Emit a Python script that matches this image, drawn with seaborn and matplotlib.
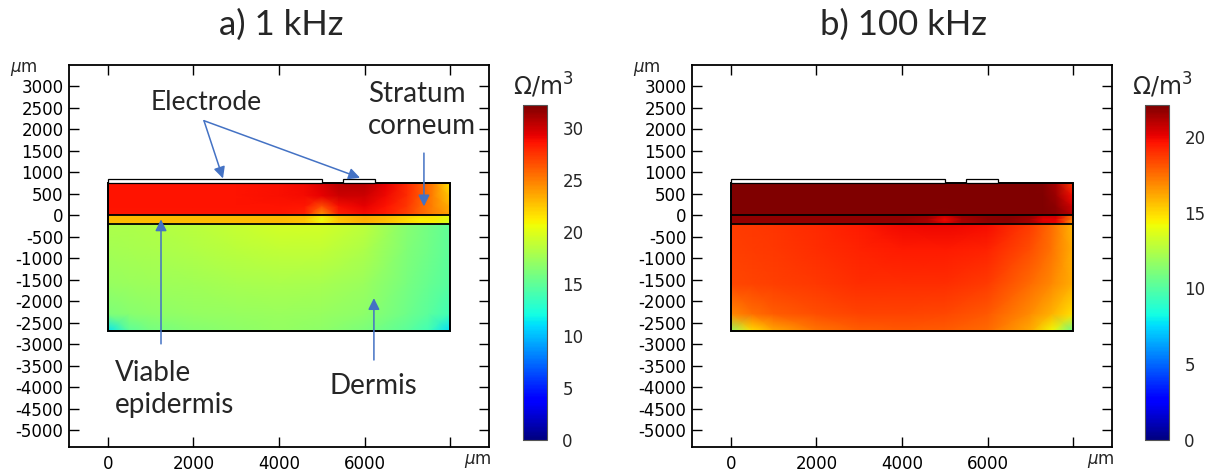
import numpy as np
import matplotlib
matplotlib.use("Agg")
import matplotlib.pyplot as plt
from matplotlib.patches import Rectangle
import seaborn as sns

sns.set_style("ticks")
plt.rcParams["font.family"] = ["DejaVu Sans"]
plt.rcParams["mathtext.fontset"] = "dejavusans"

# ---- geometry (µm) ----
x_layer = [0, 1000, 2000, 3000, 4000, 4600, 5000, 5400, 6000, 6500, 7000, 7300, 7600, 8000]
y_sc = [750, 450, 200, 0]            # stratum corneum rows
y_epi = [0, -100, -200]              # viable epidermis rows
x_derm = [0, 500, 1000, 2000, 3000, 4000, 5000, 6000, 7000, 7500, 8000]
y_derm = [-200, -800, -1600, -2300, -2700]
electrodes = [(0, 5000), (5500, 6250)]
electrode_top = 850

# ---- resistivity field, 1 kHz ----
sc_1k = [
    [28.6, 28.6, 28.6, 28.6, 28.7, 29.0, 29.6, 30.6, 30.6, 29.4, 27.9, 26.5, 25.0, 21.5],
    [28.6, 28.6, 28.6, 28.6, 28.7, 28.9, 29.2, 30.0, 30.0, 29.0, 27.7, 26.3, 24.8, 22.5],
    [28.6, 28.6, 28.6, 28.6, 28.6, 28.5, 26.5, 28.8, 29.3, 28.6, 27.4, 26.0, 24.8, 23.3],
    [28.5, 28.5, 28.5, 28.5, 28.5, 28.0, 24.0, 28.0, 28.8, 28.2, 27.0, 25.8, 24.8, 23.8],
]
epi_1k = [
    [23.0, 23.0, 23.0, 23.0, 23.0, 22.8, 21.5, 22.8, 23.4, 23.0, 22.2, 21.8, 21.5, 20.5],
    [23.0, 23.0, 23.0, 23.0, 23.0, 22.6, 20.5, 22.6, 23.4, 22.8, 21.8, 21.1, 21.3, 19.8],
    [22.8, 22.8, 22.8, 22.8, 22.9, 22.7, 21.5, 22.7, 23.2, 22.7, 22.0, 21.6, 21.0, 19.5],
]
derm_1k = [
    [18.0, 18.1, 18.2, 18.6, 19.0, 19.5, 19.6, 18.7, 16.6, 15.8, 15.0],
    [17.7, 17.8, 17.9, 18.2, 18.5, 18.8, 18.8, 18.0, 16.3, 15.6, 14.9],
    [17.2, 17.3, 17.4, 17.6, 17.8, 17.9, 17.8, 17.3, 15.9, 15.3, 14.7],
    [16.2, 16.6, 16.8, 17.0, 17.2, 17.3, 17.2, 16.8, 15.5, 14.8, 13.8],
    [11.3, 14.8, 15.8, 16.4, 16.8, 17.0, 16.8, 16.0, 14.8, 13.8, 11.0],
]

# ---- resistivity field, 100 kHz ----
sc_100k = [
    [22.5, 22.5, 22.5, 22.5, 22.5, 22.5, 22.5, 22.5, 22.5, 22.5, 22.3, 22.0, 21.3, 18.8],
    [22.5, 22.5, 22.5, 22.5, 22.5, 22.5, 22.5, 22.5, 22.5, 22.5, 22.4, 22.1, 21.5, 19.8],
    [22.5, 22.5, 22.5, 22.5, 22.5, 22.5, 22.4, 22.5, 22.5, 22.5, 22.4, 22.2, 21.8, 20.5],
    [22.5, 22.5, 22.5, 22.5, 22.5, 22.4, 22.0, 22.4, 22.5, 22.5, 22.4, 22.2, 21.9, 21.0],
]
epi_100k = [
    [21.7, 21.7, 21.7, 21.7, 21.7, 21.5, 20.6, 21.5, 21.8, 21.9, 21.6, 20.8, 20.6, 17.8],
    [21.7, 21.7, 21.7, 21.7, 21.7, 21.3, 19.9, 21.3, 21.8, 21.9, 21.4, 20.2, 20.2, 17.0],
    [21.6, 21.6, 21.6, 21.6, 21.6, 21.4, 20.5, 21.4, 21.7, 21.8, 21.4, 20.6, 20.0, 16.6],
]
derm_100k = [
    [18.7, 18.8, 18.9, 19.1, 19.5, 19.9, 20.0, 19.8, 18.7, 17.6, 15.8],
    [18.6, 18.7, 18.8, 19.0, 19.3, 19.5, 19.5, 19.3, 18.3, 17.4, 16.0],
    [18.4, 18.5, 18.6, 18.8, 19.0, 19.0, 19.0, 18.7, 17.6, 16.9, 16.0],
    [16.9, 17.5, 17.9, 18.3, 18.5, 18.5, 18.4, 18.0, 16.8, 15.9, 14.8],
    [11.8, 14.8, 16.1, 17.3, 17.8, 18.0, 17.9, 17.6, 16.1, 14.2, 10.5],
]

titles = ["a) 1 kHz", "b) 100 kHz"]
vmaxes = [32.2, 22.1]
cbar_ticks = [[0, 5, 10, 15, 20, 25, 30], [0, 5, 10, 15, 20]]
x_ticks = [0, 2000, 4000, 6000, 8000]
x_ticklabels = ["0", "2000", "4000", "6000", ""]
y_ticks = list(range(-5000, 3001, 500))
unit_label = r"$\mu$m"
cbar_title = r"Ω/m$^3$"

# ---- figure layout (pixels) ----
W, H = 1206, 472
fig = plt.figure(figsize=(W / 100, H / 100), dpi=100)


def fpos(x0, y_top, w, h):
    return [x0 / W, 1 - (y_top + h) / H, w / W, h / H]


def ftxt(x, y, s, **kw):
    fig.text(x / W, 1 - y / H, s, **kw)


panel_dx = 623
ann_font = ["Lato", "DejaVu Sans"]
arrow_kw = dict(arrowstyle="-|>", color="#4472C4", lw=1.1, mutation_scale=17,
                shrinkA=0, shrinkB=0)

fields = [(sc_1k, epi_1k, derm_1k), (sc_100k, epi_100k, derm_100k)]
cmap = plt.get_cmap("jet")

for i in range(2):
    dx = i * panel_dx
    ax = fig.add_axes(fpos(69 + dx, 65, 420, 382))
    cax = fig.add_axes(fpos(523 + dx - (0 if i == 0 else 1), 105, 24, 335))
    sc, epi, derm = fields[i]
    norm = matplotlib.colors.Normalize(0, vmaxes[i])

    mesh = None
    for xs, ys, vals in [(x_layer, y_sc, sc), (x_layer, y_epi, epi), (x_derm, y_derm, derm)]:
        X, Y = np.meshgrid(xs, ys)
        mesh = ax.pcolormesh(X, Y, np.array(vals), shading="gouraud", cmap=cmap,
                             norm=norm, zorder=1)

    # layer outlines
    ax.add_patch(Rectangle((0, y_derm[-1]), 8000, y_sc[0] - y_derm[-1], fill=False,
                           ec="black", lw=1.4, zorder=3))
    for yb in (0, -200):
        ax.plot([0, 8000], [yb, yb], color="black", lw=1.3, zorder=3)
    for x0, x1 in electrodes:
        ax.add_patch(Rectangle((x0, y_sc[0]), x1 - x0, electrode_top - y_sc[0],
                               fc="white", ec="black", lw=0.9, zorder=3))

    ax.set_xlim(-912, 8912)
    ax.set_ylim(-5390, 3500)
    ax.set_xticks(x_ticks)
    ax.set_xticklabels(x_ticklabels)
    ax.set_yticks(y_ticks)
    ax.set_yticklabels([str(v) for v in y_ticks])
    ax.tick_params(direction="in", top=True, right=True, length=7, width=1,
                   labelsize=12, colors="black", pad=4)
    ax.tick_params(axis="x", pad=6)
    for sp in ax.spines.values():
        sp.set_linewidth(1.3)
        sp.set_color("black")

    ftxt(24 + dx, 69, unit_label, fontsize=12, ha="center", va="center")
    ftxt(478 + dx, 461, unit_label, fontsize=12, ha="center", va="center")
    ftxt(281 + dx, 25, titles[i], fontsize=25, ha="center", va="center", family=ann_font)

    cb = fig.colorbar(mesh, cax=cax, ticks=cbar_ticks[i])
    cb.outline.set_linewidth(0.8)
    cb.outline.set_edgecolor("#555555")
    cax.tick_params(direction="in", left=True, right=True, length=4, width=1.2,
                    labelsize=12, pad=11)
    ftxt(513 + dx + (0 if i == 0 else -4), 85, cbar_title, fontsize=17, ha="left",
         va="center")

    if i == 0:
        ax.text(2292, 2620, "Electrode", fontsize=19, ha="center", va="center",
                family=ann_font)
        ax.annotate("", xy=(2690, 860), xytext=(2245, 2204), arrowprops=arrow_kw)
        ax.annotate("", xy=(5895, 875), xytext=(2245, 2204), arrowprops=arrow_kw)
        ax.text(6082, 2460, "Stratum\ncorneum", fontsize=20, ha="left", va="center",
                family=ann_font, linespacing=1.3)
        ax.annotate("", xy=(7390, 210), xytext=(7390, 1450), arrowprops=arrow_kw)
        ax.text(164, -4037, "Viable\nepidermis", fontsize=20, ha="left", va="center",
                family=ann_font, linespacing=1.3)
        ax.annotate("", xy=(1240, -93), xytext=(1240, -2990), arrowprops=arrow_kw)
        ax.text(6200, -3967, "Dermis", fontsize=20, ha="center", va="center",
                family=ann_font)
        ax.annotate("", xy=(6220, -1925), xytext=(6220, -3365), arrowprops=arrow_kw)

fig.savefig("out.png", dpi=100)
